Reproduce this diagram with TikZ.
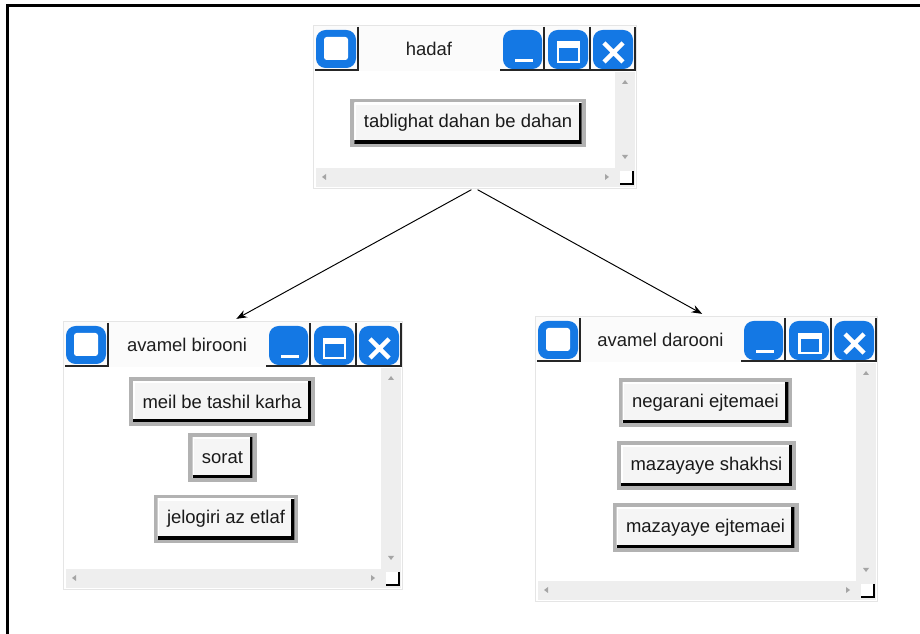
\documentclass[tikz,border=0pt]{standalone}
\usepackage{fontspec}
\setmainfont{Liberation Sans}
\usepackage{tikz}
\usetikzlibrary{arrows.meta}

\definecolor{azulv}{RGB}{20,120,228}
\definecolor{grisb}{RGB}{238,238,238}
\definecolor{grist}{RGB}{251,251,251}
\definecolor{grisf}{RGB}{165,165,165}

% ventana: nombre, x, y, ancho, alto, titulo
\newcommand{\ventana}[6]{%
	\node[marco, anchor=north west, minimum width=#4*0.02cm, minimum height=#5*0.02cm] (#1) at (#2,#3) {};
	\begin{scope}[shift={(#2,#3)}]
		%barra de titulo
		\fill[grist] (1,1) rectangle (#4-1,46);
		\node[titulo] (#1-t) at ({(#4-91)/2},24) {#6};
		%icono
		\draw[celda] (45,2) -- (45,45) -- (2,45);
		\fill[azulv, rounded corners=5.5pt] (3,5) rectangle (43,43);
		\fill[white, rounded corners=1.5pt] (11,12) rectangle (35,35);
		%minimizar
		\draw[celda] (#4-92,2) -- (#4-92,45) -- (#4-136,45);
		\fill[azulv, rounded corners=5.5pt] (#4-133,5) rectangle (#4-94,44);
		\fill[white] (#4-121,34) rectangle (#4-103,37.5);
		%maximizar
		\draw[celda] (#4-46,2) -- (#4-46,45) -- (#4-91,45);
		\fill[azulv, rounded corners=5.5pt] (#4-88,5) rectangle (#4-48,44);
		\draw[white, line width=1.7pt] (#4-78,18) rectangle (#4-57,37);
		\fill[white] (#4-78,17) rectangle (#4-57,23);
		%cerrar
		\draw[celda] (#4-1,2) -- (#4-1,45) -- (#4-45,45);
		\fill[azulv, rounded corners=5.5pt] (#4-43,5) rectangle (#4-3,44);
		\draw[white, line width=2.6pt] (#4-32,18) -- (#4-13,37) (#4-32,37) -- (#4-13,18);
		%cuerpo y barras
		\fill[white] (3,47) rectangle (#4-21,#5-20);
		\fill[grisb] (#4-21,47) rectangle (#4-1,#5-1);
		\fill[grisb] (3,#5-20) rectangle (#4-21,#5-1);
		\fill[grisf] (#4-11,55) -- (#4-14,59) -- (#4-8,59) -- cycle;
		\fill[grisf] (#4-11,#5-29) -- (#4-14,#5-33) -- (#4-8,#5-33) -- cycle;
		\fill[grisf] (9,#5-11) -- (13,#5-14) -- (13,#5-8) -- cycle;
		\fill[grisf] (#4-27,#5-11) -- (#4-31,#5-14) -- (#4-31,#5-8) -- cycle;
		\fill[white] (#4-16,#5-17) rectangle (#4-3,#5-4);
		\draw[black, line width=.8pt] (#4-3,#5-17) -- (#4-3,#5-4) -- (#4-16,#5-4);
	\end{scope}}

\begin{document}
\begin{tikzpicture}[x=0.02cm, y=-0.02cm,
		marco/.style={draw=black!10, fill=white, inner sep=0pt, outer sep=0pt},
		celda/.style={black!85, line width=.9pt},
		titulo/.style={font=\fontsize{10.5}{12}\selectfont, text=black!88, inner sep=1pt},
		boton/.style={fill=black!4, text=black!90, font=\fontsize{10.5}{12}\selectfont,
			inner xsep=5.4pt, inner ysep=0pt, minimum height=22.8pt,
			preaction={draw=black!30, line width=4.6pt},
			path picture={
				\draw[white, line width=2pt] (path picture bounding box.south west) -- (path picture bounding box.north west) -- (path picture bounding box.north east);
				\draw[black, line width=3.4pt] (path picture bounding box.south west) -- (path picture bounding box.south east) -- (path picture bounding box.north east);}},
		flecha/.style={-{Stealth[length=6pt, width=4.5pt]}, line width=.55pt, shorten <=2pt, shorten >=2.5pt}]
				\useasboundingbox (0,0) rectangle (920,634);
				%Marco
				\draw[black, line width=1.2pt] (7.5,634) -- (7.5,5.5) -- (920,5.5);
				%Ventanas
				\ventana{hadaf}{313}{25}{323}{163}{hadaf}
				\ventana{birooni}{63}{321}{339}{268}{avamel birooni}
				\ventana{darooni}{535}{316}{342}{285}{avamel darooni}
				%Botones
				\node[boton] (tablighat) at (468,123) {tablighat dahan be dahan};

				\node[boton] (meil) at (222,401.5) {meil be tashil karha};
				\node[boton] (sorat) at (222.5,457.5) {sorat};
				\node[boton] (jelogiri) at (226,519) {jelogiri az etlaf};

				\node[boton] (negarani) at (705.5,402.5) {negarani ejtemaei};
				\node[boton] (shakhsi) at (706.5,465.5) {mazayaye shakhsi};
				\node[boton] (ejtemaei) at (705.5,527.5) {mazayaye ejtemaei};
				%Flechas
				\draw[flecha] (hadaf.south) -- (birooni.north);
				\draw[flecha] (hadaf.south) -- (darooni.north);
\end{tikzpicture}
\end{document}
